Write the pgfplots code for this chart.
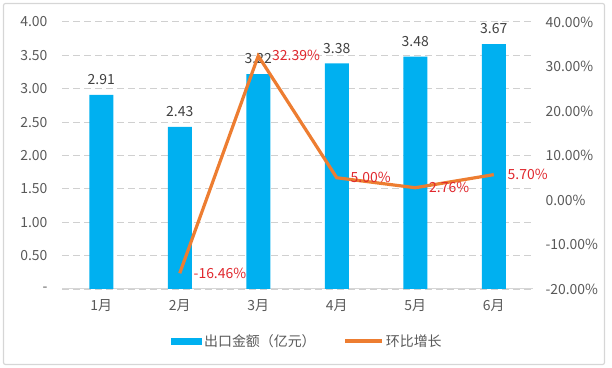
\documentclass[border=0pt]{standalone}
\usepackage{fontspec}
\setmainfont{Noto Sans CJK SC}
\usepackage{pgfplots}
\pgfplotsset{compat=1.18}
\definecolor{barblue}{HTML}{00B0F0}
\definecolor{lineorange}{HTML}{ED7D31}
\definecolor{tickgray}{HTML}{595959}
\definecolor{labgray}{HTML}{404040}
\definecolor{labred}{HTML}{E0282E}
\definecolor{gridgray}{HTML}{D0D0D0}
\definecolor{framegray}{HTML}{D6D6D6}
\begin{document}
\begin{tikzpicture}
\path[use as bounding box] (0,0) rectangle (612bp,368bp);
\draw[framegray, line width=1.2bp, rounded corners=2bp] (3.5bp,3.5bp) rectangle (604.5bp,364.5bp);
\begin{axis}[
  at={(62bp,79bp)}, anchor=south west,
  scale only axis, width=471bp, height=267bp,
  xmin=-0.5, xmax=5.5, ymin=0, ymax=4,
  xtick={0,1,2,3,4,5},
  xticklabels={1月,2月,3月,4月,5月,6月},
  ytick={0,0.5,1,1.5,2,2.5,3,3.5,4},
  yticklabels={-,0.50,1.00,1.50,2.00,2.50,3.00,3.50,4.00},
  axis line style={draw=none},
  major tick length=0pt,
  ymajorgrids,
  grid style={dash pattern=on 7bp off 4bp, draw=gridgray, line width=1bp},
  tick label style={font=\fontsize{14}{16}\selectfont, text=tickgray},
  yticklabel style={xshift=-11bp},
  xticklabel style={yshift=-7bp},
  legend style={at={(0.521,-0.195)}, anchor=center, draw=none, fill=none,
    legend columns=2, font=\fontsize{14}{16}\selectfont, text=tickgray,
    /tikz/every even column/.append style={column sep=26bp},
    inner sep=0pt},
  legend cell align=left,
]
\draw[framegray, line width=1.2bp] (axis cs:-0.5,0) -- (axis cs:5.5,0);
\addplot[ybar, bar width=24bp, fill=barblue, draw=none,
  point meta=explicit symbolic,
  nodes near coords,
  nodes near coords style={anchor=south, yshift=6.5bp, text=labgray, font=\fontsize{14}{16}\selectfont},
  legend image code/.code={\fill[barblue] (0bp,-3.5bp) rectangle (31bp,3.5bp);}
] table[meta=lab] {
x y lab
0 2.91 2.91
1 2.43 2.43
2 3.22 3.22
3 3.38 3.38
4 3.48 3.48
5 3.67 3.67
};
\addlegendentry{出口金额（亿元）}
\addlegendimage{legend image code/.code={\draw[lineorange, line width=3.2bp] (0bp,0bp) -- (37bp,0bp);}}
\addlegendentry{环比增长}
\end{axis}
\begin{axis}[
  at={(62bp,79bp)}, anchor=south west,
  scale only axis, width=471bp, height=267bp,
  xmin=-0.5, xmax=5.5, ymin=-20, ymax=40,
  hide x axis,
  ytick={-20,-10,0,10,20,30,40},
  yticklabels={-20.00\%,-10.00\%,0.00\%,10.00\%,20.00\%,30.00\%,40.00\%},
  yticklabel pos=right,
  axis line style={draw=none},
  major tick length=0pt,
  tick label style={font=\fontsize{14}{16}\selectfont, text=tickgray},
  yticklabel style={xshift=9bp},
]
\addplot[lineorange, line width=3.2bp, no markers,
  point meta=explicit symbolic,
  nodes near coords,
  nodes near coords style={anchor=west, xshift=9bp, text=labred, font=\fontsize{14}{16}\selectfont},
] table[meta=lab] {
x y lab
1 -16.46 -16.46\%
2 32.39 32.39\%
3 5.00 5.00\%
4 2.76 2.76\%
5 5.70 5.70\%
};
\end{axis}
\end{tikzpicture}
\end{document}
